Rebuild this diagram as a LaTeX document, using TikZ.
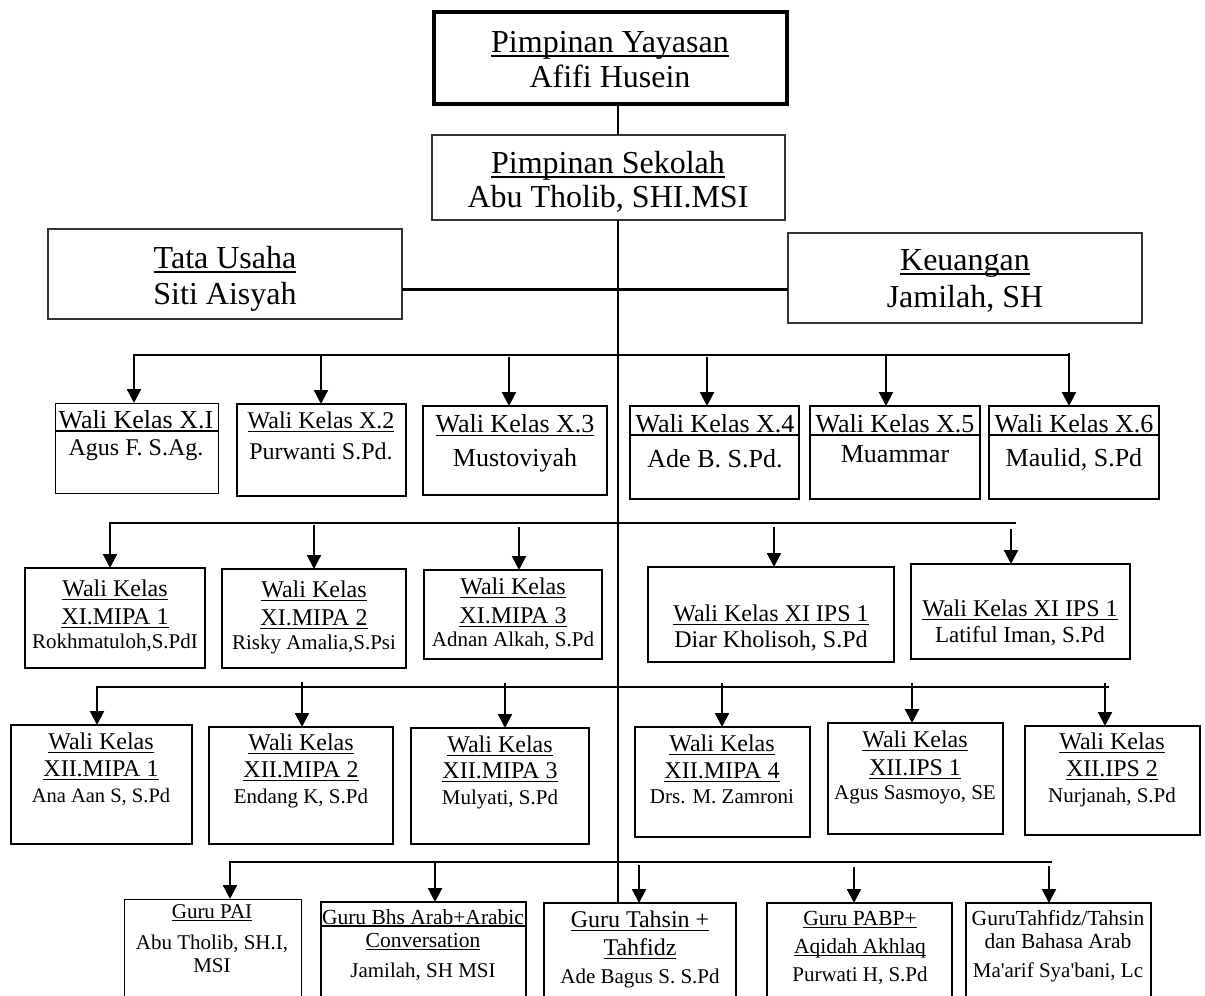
\documentclass[tikz,border=0pt]{standalone}
\usepackage{fontspec}
\setmainfont{Liberation Serif}
\usetikzlibrary{arrows.meta}
\newsavebox\ulbox
\newcommand\ul[1]{\leavevmode\sbox\ulbox{#1}\rlap{\usebox\ulbox}\rule[-0.155em]{\wd\ulbox}{0.05em}}
\newcommand\fs[2]{\fontsize{#1pt}{#2pt}\selectfont}
\newcommand\tx[4]{\node[txt] (#1) at (#2,#3) {\parbox[t]{360pt}{\centering\lineskiplimit=-100pt\lineskip=0pt\parskip=0pt #4}};}
\newcommand\bx[6][]{\node[bx,#1,minimum width={#4-#2},minimum height={#5-#3}] (#6) at ({(#2+#4)/2},{(#3+#5)/2}) {};}
\begin{document}
\begin{tikzpicture}[x=1pt,y=-1pt,
 bx/.style={draw,inner sep=0pt,outer sep=0pt,line width=2pt},
 bthin/.style={line width=1pt},
 bgray/.style={line width=1.2pt,draw=black!80},
 bthick/.style={line width=4pt},
 txt/.style={anchor=base,inner sep=0pt,outer sep=0pt},
 conn/.style={line width=2pt},
 bus/.style={line width=2.5pt,line cap=rect},
 arr/.style={line width=2.2pt,-{Triangle[length=14pt,width=14pt]}},
 sep/.style={line width=1.8pt}]
\useasboundingbox (0,0) rectangle (1205,996);
\fill[white] (0,0) rectangle (1205,996);
\clip (0,0) rectangle (1205,996);

% ---- top boxes
\bx[bthick]{434}{12}{787}{104}{yay}
\bx[bgray]{432}{135}{785}{220}{sek}
\bx[bgray]{48}{229}{402}{319}{tu}
\bx[bgray]{788}{233}{1142}{323}{ku}

% ---- row 1
\bx[bthin]{55}{403}{218}{493}{b11}
\bx{237}{404}{406}{496}{b12}
\bx{423}{406}{607}{495}{b13}
\bx{630}{406}{799}{499}{b14}
\bx{810}{406}{980}{499}{b15}
\bx{989}{406}{1159}{499}{b16}

% ---- row 2
\bx{25}{568}{205}{668}{b21}
\bx{222}{569}{406}{668}{b22}
\bx{424}{570}{602}{659}{b23}
\bx{648}{567}{894}{662}{b24}
\bx{911}{564}{1130}{659}{b25}

% ---- row 3
\bx{11}{725}{192}{844}{b31}
\bx{209}{727}{393}{844}{b32}
\bx{411}{728}{589}{844}{b33}
\bx{635}{727}{810}{837}{b34}
\bx{828}{723}{1003}{834}{b35}
\bx{1025}{726}{1200}{835}{b36}

% ---- row 4
\bx[bthin]{124}{899}{301}{1010}{b41}
\bx{321}{902}{526}{1010}{b42}
\bx{544}{903}{736}{1010}{b43}
\bx{767}{903}{952}{1010}{b44}
\bx{966}{903}{1151}{1010}{b45}

% ---- separators
\draw[sep] ([yshift=-28pt]b11.north west) -- ([yshift=-28pt]b11.north east);
\draw[sep] ([yshift=-29pt]b14.north west) -- ([yshift=-29pt]b14.north east);
\draw[sep] ([yshift=-29pt]b15.north west) -- ([yshift=-29pt]b15.north east);
\draw[sep] ([yshift=-29pt]b16.north west) -- ([yshift=-29pt]b16.north east);
\draw[sep] ([yshift=-24pt]b42.north west) -- ([yshift=-24pt]b42.north east);

% ---- spine and top connectors
\coordinate (sp) at (618,0);
\coordinate (h) at (618,289);
\draw[conn] (yay.south -| sp) -- (sek.north -| sp);
\draw[conn,line width=2.3pt] (sek.south -| sp) -- (b43.north -| sp);
\draw[line width=3pt] (tu.east |- h) -- (ku.west |- h);

% ---- row 1 bus
\coordinate (a11) at (134,355);
\coordinate (a12) at (321,355);
\coordinate (a13) at (509,357);
\coordinate (a14) at (707,357);
\coordinate (a15) at (886,355);
\coordinate (a16) at (1069,353);
\draw[bus] (a11) -- (a16 |- a11);
\foreach \i in {1,...,6} {\draw[arr] (a1\i) -- (a1\i |- b1\i.north);}

% ---- row 2 bus
\coordinate (a21) at (110,523);
\coordinate (a22) at (314,525);
\coordinate (a23) at (519,527);
\coordinate (a24) at (774,527);
\coordinate (a25) at (1011,529);
\draw[bus] (a21) -- (1015,523);
\foreach \i in {1,...,5} {\draw[arr] (a2\i) -- (a2\i |- b2\i.north);}

% ---- row 3 bus
\coordinate (a31) at (97,687);
\coordinate (a32) at (302,682);
\coordinate (a33) at (505,683);
\coordinate (a34) at (722,683);
\coordinate (a35) at (912,683);
\coordinate (a36) at (1105,683);
\draw[bus] (a31) -- (1108,687);
\foreach \i in {1,...,6} {\draw[arr] (a3\i) -- (a3\i |- b3\i.north);}

% ---- row 4 bus
\coordinate (a41) at (230,862);
\coordinate (a42) at (435,862);
\coordinate (a43) at (639,865);
\coordinate (a44) at (854,867);
\coordinate (a45) at (1049,866);
\draw[bus] (a41) -- (1051,862);
\foreach \i in {1,...,5} {\draw[arr] (a4\i) -- (a4\i |- b4\i.north);}

% ---- texts
\tx{tyay}{610}{52}{\fs{32}{32}\ul{Pimpinan Yayasan}\par\fs{32}{35}Afifi Husein\par}
\tx{tsek}{608}{173}{\fs{32}{32}\ul{Pimpinan Sekolah}\par\fs{32}{34}Abu Tholib, SHI.MSI\par}
\tx{ttu}{225}{268}{\fs{32}{32}\ul{Tata Usaha}\par\fs{32}{36}Siti Aisyah\par}
\tx{tku}{965}{270}{\fs{32}{32}\ul{Keuangan}\par\fs{32}{37}Jamilah, SH\par}

\tx{t11}{136}{428}{\fs{26}{26}Wali Kelas X.I\par\fs{24}{27}Agus F. S.Ag.\par}
\tx{t12}{321}{428}{\fs{24}{24}\ul{Wali Kelas X.2}\par\fs{24}{31}Purwanti S.Pd.\par}
\tx{t13}{515}{432}{\fs{26}{26}\ul{Wali Kelas X.3}\par\fs{26}{34}Mustoviyah\par}
\tx{t14}{715}{432}{\fs{26}{26}Wali Kelas X.4\par\fs{26}{35}Ade B. S.Pd.\par}
\tx{t15}{895}{432}{\fs{26}{26}Wali Kelas X.5\par\fs{26}{30}Muammar\par}
\tx{t16}{1074}{432}{\fs{26}{26}Wali Kelas X.6\par\fs{26}{34}Maulid, S.Pd\par}

\tx{t21}{115}{596}{\fs{24}{24}\ul{Wali Kelas}\par\fs{24}{28}\ul{XI.MIPA 1}\par\fs{21}{24}Rokhmatuloh,S.PdI\par}
\tx{t22}{314}{597}{\fs{24}{24}\ul{Wali Kelas}\par\fs{24}{28}\ul{XI.MIPA 2}\par\fs{21}{24}Risky Amalia,S.Psi\par}
\tx{t23}{513}{594}{\fs{24}{24}\ul{Wali Kelas}\par\fs{24}{29}\ul{XI.MIPA 3}\par\fs{21}{23}Adnan Alkah, S.Pd\par}
\tx{t24}{771}{621}{\fs{24}{24}\ul{Wali Kelas XI IPS 1}\par\fs{24}{26}Diar Kholisoh, S.Pd\par}
\tx{t25}{1020}{616}{\fs{24}{24}\ul{Wali Kelas XI IPS 1}\par\fs{23}{26}Latiful Iman, S.Pd\par}

\tx{t31}{101}{749}{\fs{24}{24}\ul{Wali Kelas}\par\fs{24}{27}\ul{XII.MIPA 1}\par\fs{20.5}{26}Ana Aan S, S.Pd\par}
\tx{t32}{301}{750}{\fs{24}{24}\ul{Wali Kelas}\par\fs{24}{27}\ul{XII.MIPA 2}\par\fs{21}{26}Endang K, S.Pd\par}
\tx{t33}{500}{752}{\fs{24}{24}\ul{Wali Kelas}\par\fs{24}{26}\ul{XII.MIPA 3}\par\fs{21}{26}Mulyati, S.Pd\par}
\tx{t34}{722}{751}{\fs{24}{24}\ul{Wali Kelas}\par\fs{24}{27}\ul{XII.MIPA 4}\par\fs{21}{25}Drs. M. Zamroni\par}
\tx{t35}{915}{747}{\fs{24}{24}\ul{Wali Kelas}\par\fs{24}{28}\ul{XII.IPS 1}\par\fs{21}{24}Agus Sasmoyo, SE\par}
\tx{t36}{1112}{749}{\fs{24}{24}\ul{Wali Kelas}\par\fs{24}{27}\ul{XII.IPS 2}\par\fs{21}{26}Nurjanah, S.Pd\par}

\tx{t41}{212}{918}{\fs{21}{21}\ul{Guru PAI}\par\fs{21}{31}Abu Tholib, SH.I,\par\fs{21}{23}MSI\par}
\tx{t42}{423}{924}{\fs{21.5}{21.5}Guru Bhs Arab+Arabic\par\fs{21.5}{23}\ul{Conversation}\par\fs{21}{30}Jamilah, SH MSI\par}
\tx{t43}{640}{927}{\fs{24}{24}\ul{Guru Tahsin +}\par\fs{24}{28}\ul{Tahfidz}\par\fs{21}{28}Ade Bagus S. S.Pd\par}
\tx{t44}{860}{925}{\fs{21.5}{21.5}\ul{Guru PABP+}\par\fs{21.5}{28}\ul{Aqidah Akhlaq}\par\fs{21}{28}Purwati H, S.Pd\par}
\tx{t45}{1058}{925}{\fs{21.5}{21.5}GuruTahfidz/Tahsin\par\fs{21.5}{23}dan Bahasa Arab\par\fs{21}{29}Ma\textquotesingle arif Sya\textquotesingle bani, Lc\par}
\end{tikzpicture}
\end{document}
